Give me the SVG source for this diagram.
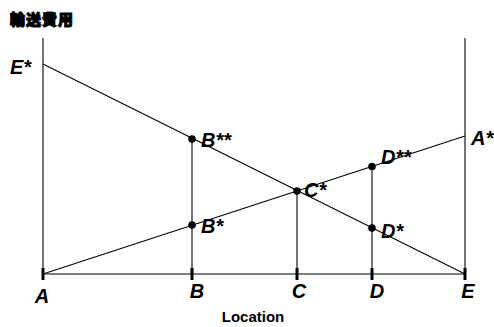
<svg xmlns="http://www.w3.org/2000/svg" width="494" height="327" viewBox="0 0 494 327">
<style>
.ln{stroke:#000;stroke-width:1.1;fill:none}
.tk{stroke:#000;stroke-width:3}
.lb{font-family:"Liberation Sans",Arial,sans-serif;font-weight:bold;font-style:italic;font-size:20px;fill:#000}
.ax{font-family:"Liberation Sans",Arial,sans-serif;font-weight:bold;font-size:15px;fill:#000}
.dot{fill:#000}
</style>
<rect width="494" height="327" fill="#fff"/>
<text x="10" y="25" font-family="'Noto Sans CJK JP','Noto Sans CJK SC',sans-serif" font-weight="900" font-size="15" stroke="#000" stroke-width="1" letter-spacing="1">輸送費用</text>
<g id="connectors">
<line class="ln" x1="43" y1="38" x2="43" y2="274"/>
<line class="ln" x1="465" y1="38" x2="465" y2="274"/>
<line class="ln" x1="43" y1="274" x2="465" y2="274"/>
<line class="ln" x1="43" y1="64" x2="465" y2="274"/>
<line class="ln" x1="43" y1="274" x2="465" y2="136"/>
<line class="ln" x1="192" y1="138" x2="192" y2="274"/>
<line class="ln" x1="297" y1="191" x2="297" y2="274"/>
<line class="ln" x1="372" y1="166.5" x2="372" y2="274"/>
</g>
<g id="ticks">
<line class="tk" x1="43" y1="268" x2="43" y2="280"/>
<line class="tk" x1="192" y1="268" x2="192" y2="280"/>
<line class="tk" x1="297" y1="268" x2="297" y2="280"/>
<line class="tk" x1="372" y1="268" x2="372" y2="280"/>
<line class="tk" x1="465" y1="268" x2="465" y2="280"/>
</g>
<g id="E-star"><text class="lb" x="10" y="74">E*</text></g>
<g id="A-star"><text class="lb" x="471" y="145">A*</text></g>
<g id="B-2star"><circle class="dot" cx="192" cy="139" r="3.8"/><text class="lb" x="201" y="147">B**</text></g>
<g id="B-star"><circle class="dot" cx="192" cy="225" r="3.8"/><text class="lb" x="201" y="233">B*</text></g>
<g id="C-star"><circle class="dot" cx="297" cy="191" r="3.8"/><text class="lb" x="304" y="197">C*</text></g>
<g id="D-2star"><circle class="dot" cx="372" cy="166.5" r="3.8"/><text class="lb" x="381" y="164">D**</text></g>
<g id="D-star"><circle class="dot" cx="372" cy="228" r="3.8"/><text class="lb" x="381" y="238">D*</text></g>
<g id="A"><text class="lb" x="42" y="303" text-anchor="middle">A</text></g>
<g id="B"><text class="lb" x="197" y="298" text-anchor="middle">B</text></g>
<g id="C"><text class="lb" x="299" y="298" text-anchor="middle">C</text></g>
<g id="D"><text class="lb" x="377" y="298" text-anchor="middle">D</text></g>
<g id="E"><text class="lb" x="468" y="298" text-anchor="middle">E</text></g>
<text class="ax" x="253" y="322" text-anchor="middle">Location</text>
</svg>
